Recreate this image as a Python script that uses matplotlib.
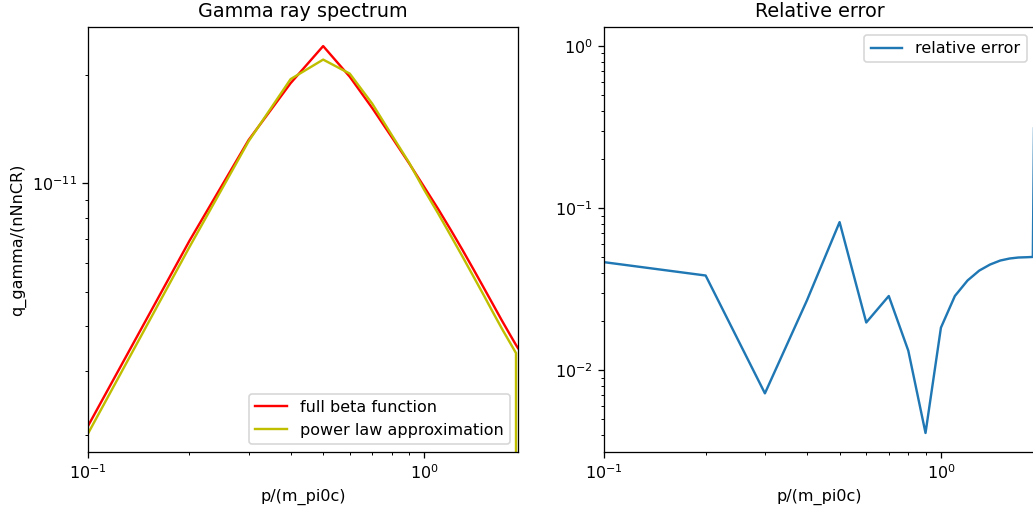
import matplotlib
matplotlib.use("Agg")
import matplotlib.pyplot as plt

# momentum grid p/(m_pi0 c)
p = [0.1, 0.2, 0.3, 0.4, 0.5, 0.6, 0.7, 0.8, 0.9, 1.0,
     1.1, 1.2, 1.3, 1.4, 1.5, 1.6, 1.7, 1.8, 1.875, 1.9]

# full beta function spectrum
q_full = [2.12e-12, 6.92e-12, 1.32e-11, 1.90e-11, 2.41e-11, 1.98e-11, 1.62e-11,
          1.345e-11, 1.139e-11, 9.76e-12, 8.48e-12, 7.41e-12, 6.52e-12, 5.77e-12,
          5.14e-12, 4.61e-12, 4.16e-12, 3.79e-12, 3.55e-12, 3.48e-12]

# power law approximation (drops to zero at the cutoff)
q_approx = [2.02e-12, 6.65e-12, 1.31e-11, 1.95e-11, 2.21e-11, 2.02e-11, 1.666e-11,
            1.363e-11, 1.144e-11, 9.58e-12, 8.24e-12, 7.14e-12, 6.25e-12, 5.51e-12,
            4.90e-12, 4.38e-12, 3.95e-12, 3.60e-12, 3.37e-12, 0.0]

rel_err = [0.0464, 0.0384, 0.0072, 0.027, 0.082, 0.0197, 0.0287, 0.0132, 0.0041,
           0.0183, 0.0287, 0.0358, 0.0412, 0.0449, 0.0475, 0.0489, 0.0496,
           0.0498, 0.050, 1.0]

DPI = 115
fig = plt.figure(figsize=(1033 / DPI, 515 / DPI), dpi=DPI)
ax1 = fig.add_axes([0.0855, 0.1217, 0.4159, 0.8264])
ax2 = fig.add_axes([0.585, 0.1217, 0.4167, 0.8264])

ax1.plot(p, q_full, color="red", label="full beta function")
ax1.plot(p, q_approx, color="y", label="power law approximation")
ax1.set_xscale("log")
ax1.set_yscale("log")
ax1.set_xlim(0.1, 1.9)
ax1.set_xlabel("p/(m_pi0c)")
ax1.set_ylabel("q_gamma/(nNnCR)")
ax1.set_title("Gamma ray spectrum")
ax1.legend(loc="lower right")

ax2.plot(p, rel_err, label="relative error")
ax2.set_xscale("log")
ax2.set_yscale("log")
ax2.set_xlim(0.1, 1.9)
ax2.set_xlabel("p/(m_pi0c)")
ax2.set_title("Relative error")
ax2.legend(loc="upper right")

fig.savefig("out.png", dpi=DPI)
